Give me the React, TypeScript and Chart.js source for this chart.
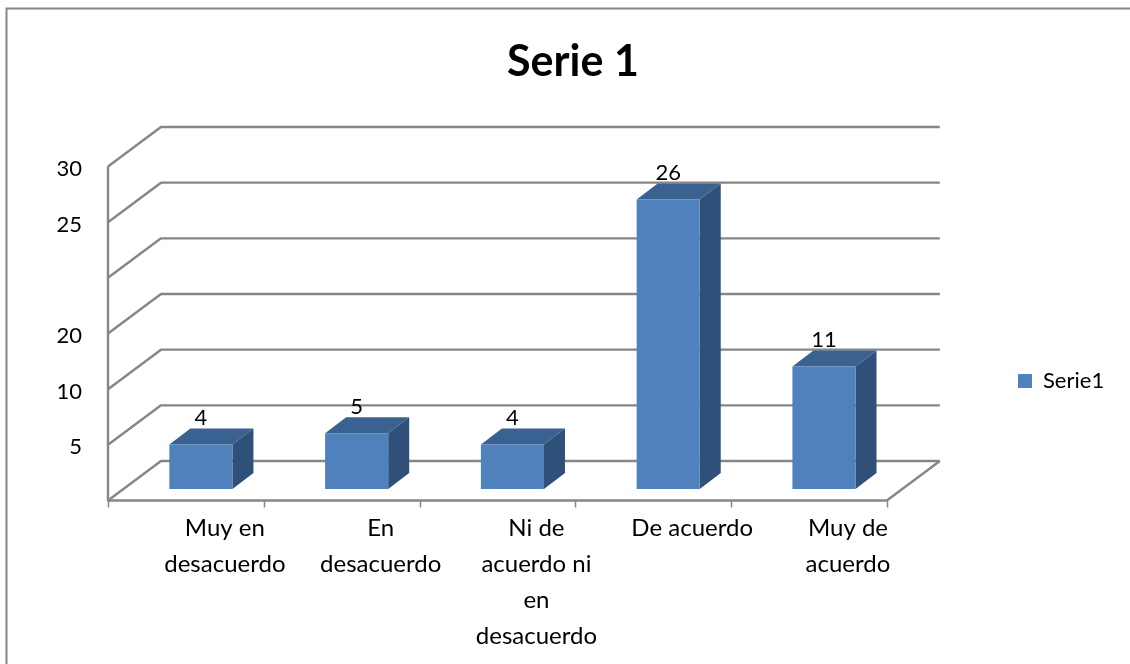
import React, { useEffect, useRef } from "react";
import { Chart, registerables } from "chart.js";

Chart.register(...registerables);

const categories = [
  ["Muy en", "desacuerdo"],
  ["En", "desacuerdo"],
  ["Ni de", "acuerdo ni", "en", "desacuerdo"],
  ["De acuerdo"],
  ["Muy de", "acuerdo"],
];
const seriesName = "Serie1";
const seriesValues = [4, 5, 4, 26, 11];
const yTickValues = [0, 5, 10, 15, 20, 25, 30];
const yTickLabels = ["", "5", "10", "20", "", "25", "30"];
const titleText = "Serie 1";

const FONT = "Lato, Carlito, Calibri, sans-serif";
const GRID = "#868686";
const FRONT = "#4F81BD";
const TOP = "#3A6291";
const SIDE = "#2F5078";
const WALL_DX = 38;
const WALL_DY = -28;
const FLOOR_DX = -15;
const FLOOR_DY = 11.5;
const BAR_DX = 21;
const BAR_DY = -16;

const threeD = {
  id: "threeD",
  beforeDraw(chart: any) {
    const { ctx, legend, titleBlock } = chart;
    ctx.save();
    ctx.strokeStyle = GRID;
    ctx.lineWidth = 2;
    ctx.beginPath();
    ctx.moveTo(6.5, 664);
    ctx.lineTo(6.5, 8.5);
    ctx.lineTo(1130, 8.5);
    ctx.stroke();
    ctx.restore();
    if (legend) {
      const h = legend.height;
      const w = legend.width;
      legend.left = 1008;
      legend.right = 1008 + w;
      legend.top = 360;
      legend.bottom = 360 + h;
    }
    if (titleBlock) {
      titleBlock.left = 0;
      titleBlock.right = 1146;
    }
  },
  beforeDatasetsDraw(chart: any) {
    const { ctx, chartArea, scales } = chart;
    const y = scales.y;
    const x = scales.x;
    const left = chartArea.left;
    const right = chartArea.right;
    ctx.save();
    ctx.strokeStyle = GRID;
    ctx.lineWidth = 2.4;
    ctx.lineJoin = "round";
    yTickValues.forEach((v) => {
      const py = y.getPixelForValue(v);
      ctx.beginPath();
      ctx.moveTo(left + FLOOR_DX, py + FLOOR_DY);
      ctx.lineTo(left + WALL_DX, py + WALL_DY);
      ctx.lineTo(right + WALL_DX, py + WALL_DY);
      ctx.stroke();
    });
    const y0 = y.getPixelForValue(0);
    const y30 = y.getPixelForValue(30);
    ctx.beginPath();
    ctx.moveTo(left + FLOOR_DX, y30 + FLOOR_DY);
    ctx.lineTo(left + FLOOR_DX, y0 + FLOOR_DY);
    ctx.lineTo(right + FLOOR_DX, y0 + FLOOR_DY);
    ctx.lineTo(right + WALL_DX, y0 + WALL_DY);
    ctx.stroke();
    ctx.lineWidth = 1.5;
    const step = (right - left) / categories.length;
    categories.concat([[]]).forEach((_: any, i: number) => {
      const px = Math.round(x.getPixelForValue(0) - step / 2 + i * step + FLOOR_DX) + 0.5;
      ctx.beginPath();
      ctx.moveTo(px, y0 + FLOOR_DY);
      ctx.lineTo(px, y0 + FLOOR_DY + 7);
      ctx.stroke();
    });
    const meta = chart.getDatasetMeta(0);
    meta.data.forEach((b: any) => {
      const l = b.x - b.width / 2;
      const r = b.x + b.width / 2;
      ctx.fillStyle = TOP;
      ctx.beginPath();
      ctx.moveTo(l, b.y);
      ctx.lineTo(l + BAR_DX, b.y + BAR_DY);
      ctx.lineTo(r + BAR_DX, b.y + BAR_DY);
      ctx.lineTo(r, b.y);
      ctx.closePath();
      ctx.fill();
      ctx.fillStyle = SIDE;
      ctx.beginPath();
      ctx.moveTo(r, b.y);
      ctx.lineTo(r + BAR_DX, b.y + BAR_DY);
      ctx.lineTo(r + BAR_DX, b.base + BAR_DY);
      ctx.lineTo(r, b.base);
      ctx.closePath();
      ctx.fill();
    });
    ctx.restore();
  },
  afterDatasetsDraw(chart: any) {
    const { ctx } = chart;
    const meta = chart.getDatasetMeta(0);
    ctx.save();
    ctx.fillStyle = "#000";
    ctx.font = `22px ${FONT}`;
    ctx.textAlign = "center";
    ctx.textBaseline = "middle";
    meta.data.forEach((b: any, i: number) => {
      ctx.fillText(String(seriesValues[i]), b.x, b.y - 26.5);
    });
    ctx.restore();
  },
};

export default function App() {
  const ref = useRef<HTMLCanvasElement | null>(null);
  useEffect(() => {
    const chart = new Chart(ref.current as HTMLCanvasElement, {
      type: "bar",
      data: {
        labels: categories,
        datasets: [
          {
            label: seriesName,
            data: seriesValues,
            backgroundColor: FRONT,
            borderWidth: 0,
            barPercentage: 0.405,
            categoryPercentage: 1,
          },
        ],
      },
      options: {
        responsive: false,
        animation: false,
        layout: { padding: { left: 0, right: 122, top: 0, bottom: 0 } },
        plugins: {
          tooltip: { enabled: false },
          title: {
            display: true,
            text: titleText,
            color: "#000",
            font: { family: FONT, size: 43, weight: "bold", lineHeight: 1.2 },
            padding: { top: 36, bottom: 67.4 },
          },
          legend: {
            display: true,
            position: "right",
            align: "start",
            labels: {
              boxWidth: 14,
              boxHeight: 14,
              padding: 10,
              color: "#000",
              font: { family: FONT, size: 22 },
            },
          },
        },
        scales: {
          x: {
            grid: { display: false, drawTicks: false },
            border: { display: false },
            afterFit: (s: any) => {
              s.height = 175;
            },
            ticks: {
              color: "#000",
              autoSkip: false,
              maxRotation: 0,
              minRotation: 0,
              padding: 21,
              labelOffset: 24,
              font: { family: FONT, size: 24, lineHeight: 36 / 24 },
            },
          },
          y: {
            min: 0,
            max: 30,
            grid: { display: false, drawTicks: false },
            border: { display: false },
            afterFit: (s: any) => {
              s.width = 123;
            },
            ticks: {
              stepSize: 5,
              color: "#000",
              padding: 41,
              labelOffset: 14,
              font: { family: FONT, size: 22 },
              callback: (v: any) => yTickLabels[yTickValues.indexOf(Number(v))] ?? "",
            },
          },
        },
      },
      plugins: [threeD],
    } as any);
    return () => chart.destroy();
  }, []);
  return (
    <div style={{ position: "fixed", left: 0, top: 0, width: 1130, height: 664, background: "#fff" }}>
      <canvas ref={ref} width={1130} height={664} style={{ display: "block" }} />
    </div>
  );
}
